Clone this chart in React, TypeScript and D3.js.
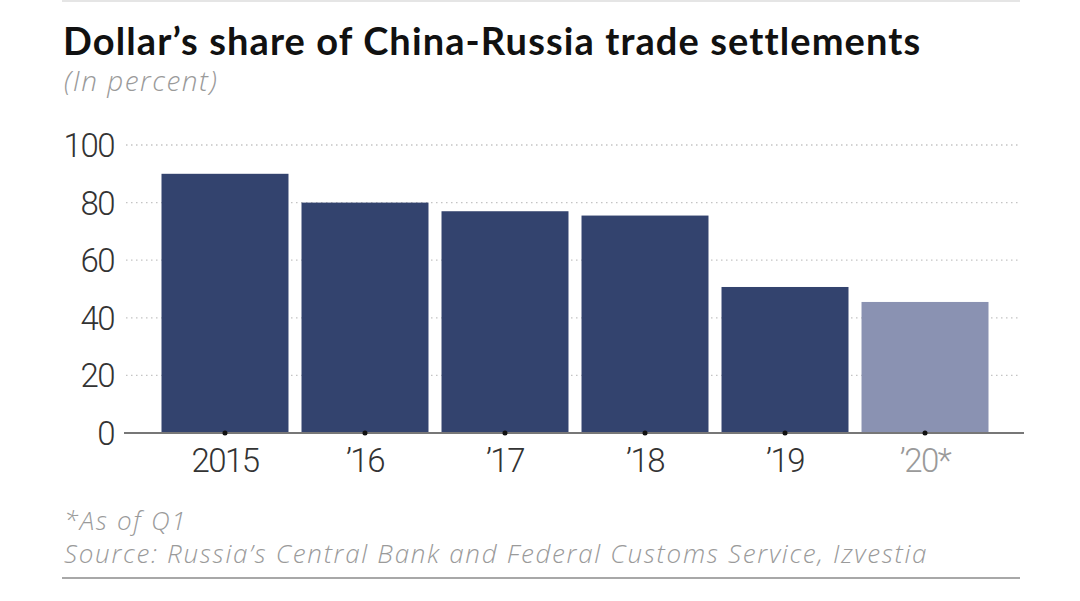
import * as d3 from "d3";
import { useEffect, useRef } from "react";

const years = ["2015", "'16", "'17", "'18", "'19", "'20*"];
const yearLabels = ["2015", "\u201916", "\u201917", "\u201918", "\u201919", "\u201920*"];
const dollarShare = [90, 80, 77, 75.5, 50.7, 45.5];
const partialYear = [false, false, false, false, false, true];
const yTicks = [0, 20, 40, 60, 80, 100];

const width = 1080;
const height = 601;

export default function App() {
  const ref = useRef<SVGSVGElement>(null);

  useEffect(() => {
    if (!ref.current) return;
    const svg = d3.select(ref.current);
    svg.selectAll("*").remove();

    const x = d3
      .scaleBand<string>()
      .domain(years)
      .range([154.5, 995.5])
      .paddingInner(0.093)
      .paddingOuter(0.05);

    const y = d3.scaleLinear().domain([0, 100]).range([433, 145]);

    // thin rule at the very top
    svg
      .append("line")
      .attr("x1", 62)
      .attr("x2", 1020)
      .attr("y1", 1)
      .attr("y2", 1)
      .attr("stroke", "#dddddd")
      .attr("stroke-width", 1.5);

    svg
      .append("text")
      .attr("x", 63)
      .attr("y", 55)
      .attr("font-family", "Lato, sans-serif")
      .attr("font-weight", 700)
      .attr("font-size", 38)
      .attr("letter-spacing", 1.1)
      .attr("fill", "#111")
      .text("Dollar\u2019s share of China-Russia trade settlements");

    const note = (txt: string, yy: number, size: number, spacing: number) =>
      svg
        .append("text")
        .attr("x", 64)
        .attr("y", yy)
        .attr("font-family", "'Open Sans', sans-serif")
        .attr("font-style", "italic")
        .attr("font-weight", 300)
        .attr("font-size", size)
        .attr("letter-spacing", spacing)
        .attr("fill", "#9a9a9a")
        .text(txt);

    note("(In percent)", 91, 28, 1.5);

    // dotted gridlines
    svg
      .append("g")
      .selectAll("line")
      .data(yTicks.filter((d) => d > 0))
      .join("line")
      .attr("x1", 126)
      .attr("x2", 1021)
      .attr("y1", (d) => y(d))
      .attr("y2", (d) => y(d))
      .attr("stroke", "#c4c4c4")
      .attr("stroke-width", 1.3)
      .attr("stroke-dasharray", "1.5,3.5");

    // y labels
    svg
      .append("g")
      .selectAll("text")
      .data(yTicks)
      .join("text")
      .attr("x", 114)
      .attr("y", (d) => y(d) + 12)
      .attr("text-anchor", "end")
      .attr("font-family", "Roboto, sans-serif")
      .attr("font-weight", 300)
      .attr("font-size", 33)
      .attr("letter-spacing", -1.5)
      .attr("fill", "#333")
      .text((d) => d);

    // bars
    svg
      .append("g")
      .selectAll("rect")
      .data(years)
      .join("rect")
      .attr("x", (d) => x(d)!)
      .attr("width", x.bandwidth())
      .attr("y", (_, i) => y(dollarShare[i]))
      .attr("height", (_, i) => y(0) - y(dollarShare[i]))
      .attr("fill", (_, i) => (partialYear[i] ? "#8a92b2" : "#33436e"));

    // baseline
    svg
      .append("line")
      .attr("x1", 124)
      .attr("x2", 1024)
      .attr("y1", y(0))
      .attr("y2", y(0))
      .attr("stroke", "#777")
      .attr("stroke-width", 2);

    // tick dots
    svg
      .append("g")
      .selectAll("circle")
      .data(years)
      .join("circle")
      .attr("cx", (d) => x(d)! + x.bandwidth() / 2)
      .attr("cy", y(0))
      .attr("r", 2.5)
      .attr("fill", "#111");

    // x labels
    svg
      .append("g")
      .selectAll("text")
      .data(years)
      .join("text")
      .attr("x", (d) => x(d)! + x.bandwidth() / 2)
      .attr("y", 472)
      .attr("text-anchor", "middle")
      .attr("font-family", "Roboto, sans-serif")
      .attr("font-weight", 300)
      .attr("font-size", 33)
      .attr("letter-spacing", -1.5)
      .attr("fill", (_, i) => (partialYear[i] ? "#9a9a9a" : "#333"))
      .text((_, i) => yearLabels[i]);

    note("*As of Q1", 530, 26, 1.7);
    note("Source: Russia\u2019s Central Bank and Federal Customs Service, Izvestia", 563, 26, 1.7);

    svg
      .append("line")
      .attr("x1", 62)
      .attr("x2", 1020)
      .attr("y1", 578)
      .attr("y2", 578)
      .attr("stroke", "#a8a8a8")
      .attr("stroke-width", 2);
  }, []);

  return (
    <svg
      ref={ref}
      width={width}
      height={height}
      style={{ position: "absolute", left: 0, top: 0, background: "#fff" }}
    />
  );
}
